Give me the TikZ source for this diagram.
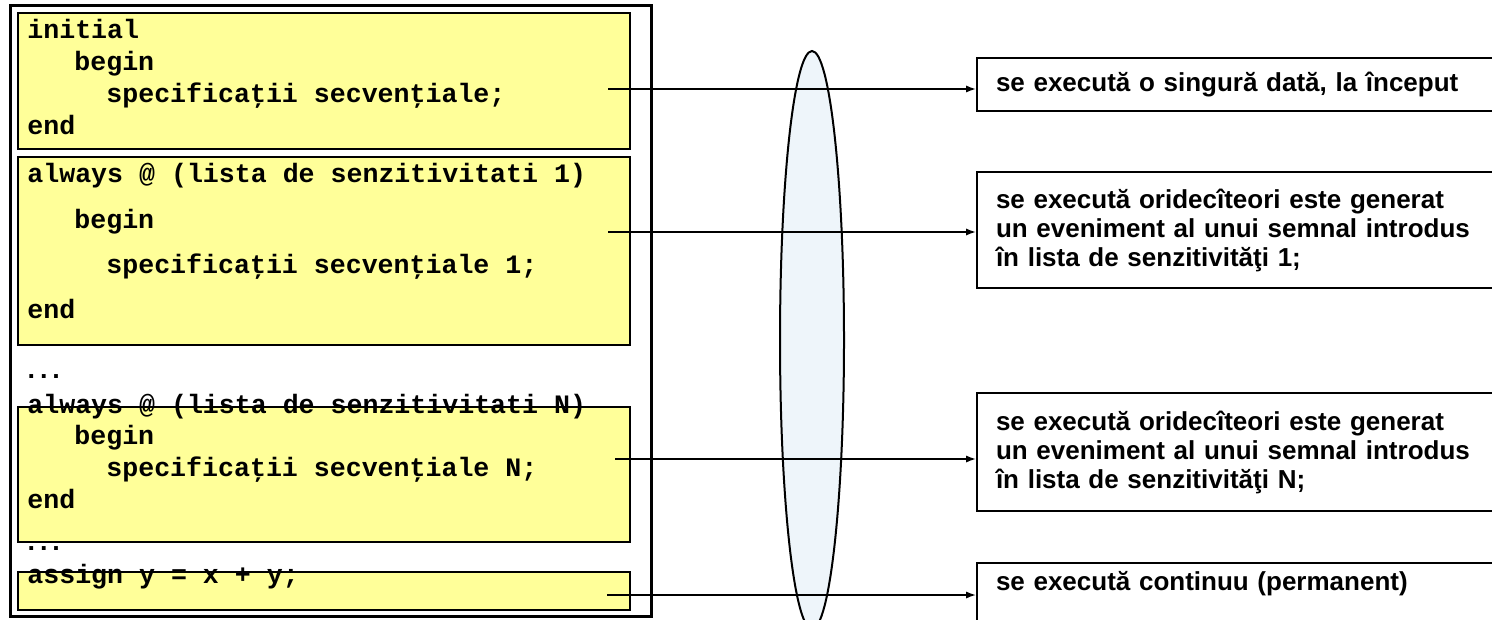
\documentclass[tikz,border=0pt]{standalone}
\usepackage{fontspec}
\setmainfont{Liberation Sans}
\setsansfont{Liberation Sans}
\setmonofont{Liberation Mono}
\usepackage{xcolor}
\usepackage{tikz}
\usetikzlibrary{arrows.meta}

\definecolor{codeyellow}{HTML}{FFFF99}
\definecolor{lensblue}{HTML}{EEF5FA}

\tikzset{
  codebox/.style={draw=black, fill=codeyellow, line width=1pt},
  codeline/.style={anchor=base west, inner sep=0pt, font=\ttfamily\bfseries\fontsize{13.3}{15}\selectfont},
  notebox/.style={draw=black, fill=white, line width=1pt, anchor=west, inner xsep=9.5pt,
    text width=248pt, align=left, font=\sffamily\bfseries\fontsize{13}{14.5}\selectfont},
  link/.style={-{Latex[length=5pt,width=3.6pt]}, line width=0.75pt}
}

\begin{document}
\begin{tikzpicture}[x=0.5pt, y=-0.5pt]
\useasboundingbox (0,0) rectangle (1492,620);
\clip (0,0) rectangle (1492,620);

% frame round the code
\draw[line width=1.5pt] (10.5,6) rectangle (651.5,616);

% yellow blocks
\draw[codebox] (18,13) rectangle (630,149);
\draw[codebox] (18,157) rectangle (630,345);
\draw[codebox] (18,407) rectangle (630,542);
\draw[codebox] (18,572) rectangle (630,610);

% initial block
\node[codeline] (ini) at (27,39) {initial};
\node[codeline] (inibeg) at (74,71) {begin};
\node[codeline] (inispec) at (106,103) {specificaţii secvenţiale;};
\node[codeline] (iniend) at (27,135) {end};

% always block 1
\node[codeline] (alw) at (27,183) {always @ (lista de senzitivitati 1)};
\node[codeline] (alwbeg) at (74,228) {begin};
\node[codeline] (alwspec) at (106,273) {specificaţii secvenţiale 1;};
\node[codeline] (alwend) at (27,318) {end};

\node[codeline] (dotsa) at (23,378) {.\kern-1.8pt.\kern-1.8pt.};

% always block N
\node[codeline] (alwn) at (27,413) {always @ (lista de senzitivitati N)};
\node[codeline] (alwnbeg) at (74,444) {begin};
\node[codeline] (alwnspec) at (106,476) {specificaţii secvenţiale N;};
\node[codeline] (alwnend) at (27,508) {end};

\node[codeline] (dotsb) at (23,550) {.\kern-1.8pt.\kern-1.8pt.};

% continuous assignment
\node[codeline] (asg) at (27,583) {assign y = x + y;};

% the lens between code and notes
\draw[fill=lensblue, line width=1pt] (812,340) ellipse [x radius=32, y radius=289];

% notes on the right
\node[notebox, minimum height=26.5pt] (r1) at (976,84.5) {se execută o singură dată, la început};
\node[notebox, minimum height=58pt] (r2) at (976,230) {se execută oridecîteori este generat\\un eveniment al unui semnal introdus\\în lista de senzitivităţi 1;};
\node[notebox, minimum height=59pt] (r3) at (976,452) {se execută oridecîteori este generat\\un eveniment al unui semnal introdus\\în lista de senzitivităţi N;};
\node[notebox, anchor=base west, inner ysep=0pt, text height=13.5pt, text depth=17.5pt] (r4) at (976,590) {se execută continuu (permanent)};

% arrows
\coordinate (s1) at (608,89);
\coordinate (s2) at (608,232);
\coordinate (s3) at (615,459);
\coordinate (s4) at (607,595);
\draw[link] (s1) -- (s1 -| r1.west);
\draw[link] (s2) -- (s2 -| r2.west);
\draw[link] (s3) -- (s3 -| r3.west);
\draw[link] (s4) -- (s4 -| r4.west);
\end{tikzpicture}
\end{document}
